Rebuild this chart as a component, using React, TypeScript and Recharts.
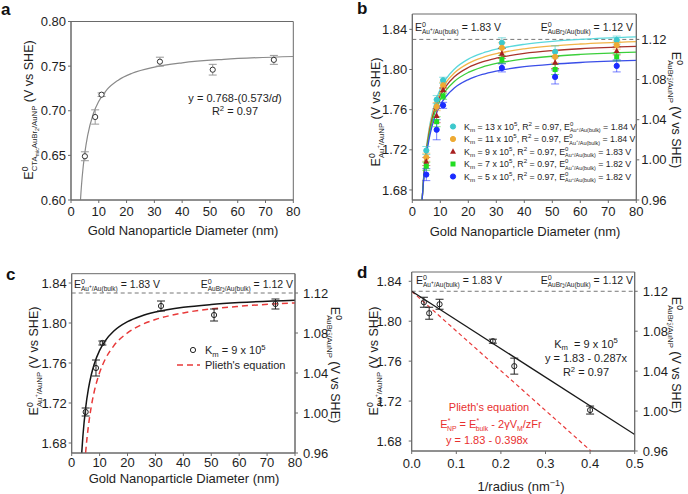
import React from 'react';
import { ComposedChart, Line, Scatter, XAxis, YAxis, ErrorBar, ReferenceLine, ReferenceArea } from 'recharts';

const FONT = "'Liberation Sans', Arial, Helvetica, sans-serif";
const TXT = '#1e1e1e';
const AX = '#6a6a6a';

// ---------- data ----------
const diameters = [5, 8.7, 11, 32, 51, 73];
const inverseRadius = [0.4, 0.23, 0.182, 0.0625, 0.0392, 0.0274];

// panel a
const aPotential = [0.649, 0.693, 0.718, 0.755, 0.746, 0.757];
const aError = [0.005, 0.008, 0.002, 0.005, 0.006, 0.005];
const aFitDiameter = [3.41, 3.6, 4, 5, 6, 8, 10, 13, 17, 22, 30, 40, 55, 80];
const aFitPotential = [0.6, 0.609, 0.625, 0.6534, 0.6725, 0.6964, 0.7107, 0.7239, 0.7343, 0.742, 0.7489, 0.7537, 0.7576, 0.7608];

// panel b
const bKm13 = [1.7193, 1.770, 1.7893, 1.8266, 1.8176, 1.8293];
const bKm11 = [1.7126, 1.763, 1.7843, 1.8216, 1.8126, 1.8243];
const bKm9 = [1.7083, 1.754, 1.7797, 1.816, 1.807, 1.8186];
const bKm7 = [1.7036, 1.748, 1.7733, 1.810, 1.800, 1.8126];
const bKm5 = [1.6953, 1.740, 1.7643, 1.8016, 1.7926, 1.8036];
const bErr13 = [0.004, 0.004, 0.003, 0.005, 0.006, 0.004];
const bErr11 = [0.004, 0.004, 0.003, 0.005, 0.006, 0.004];
const bErr9 = [0.004, 0.007, 0.002, 0.005, 0.006, 0.004];
const bErr7 = [0.004, 0.005, 0.003, 0.004, 0.005, 0.004];
const bErr5 = [0.006, 0.010, 0.003, 0.004, 0.007, 0.006];
const bFitDiameter = [3.5, 4, 5, 6, 7, 8, 10, 12, 15, 20, 25, 30, 40, 50, 60, 80];
const bFit13 = [1.670, 1.6913, 1.721, 1.7408, 1.755, 1.7656, 1.7805, 1.7904, 1.8003, 1.8103, 1.8162, 1.8202, 1.8251, 1.8281, 1.8301, 1.8326];
const bFit11 = [1.670, 1.6906, 1.7195, 1.7388, 1.7525, 1.7628, 1.7773, 1.7869, 1.7965, 1.8061, 1.8119, 1.8158, 1.8206, 1.8235, 1.8254, 1.8278];
const bFit9 = [1.670, 1.690, 1.718, 1.7367, 1.750, 1.760, 1.774, 1.7833, 1.7927, 1.802, 1.8076, 1.8113, 1.816, 1.8188, 1.8207, 1.823];
const bFit7 = [1.670, 1.6893, 1.7162, 1.7342, 1.747, 1.7566, 1.7701, 1.7791, 1.7881, 1.7971, 1.8024, 1.806, 1.8105, 1.8132, 1.815, 1.8173];
const bFit5 = [1.670, 1.6882, 1.7137, 1.7306, 1.7428, 1.7518, 1.7646, 1.7731, 1.7816, 1.790, 1.7951, 1.7985, 1.8028, 1.8053, 1.807, 1.8091];

// panel c / d
const cPotential = [1.711, 1.755, 1.780, 1.817, 1.808, 1.819];
const cError = [0.004, 0.008, 0.002, 0.005, 0.006, 0.005];
const cFitDiameter = [3.59, 4, 5, 6, 7, 8, 10, 12, 15, 20, 25, 30, 40, 50, 60, 80];
const cFitPotential = [1.6701, 1.6865, 1.7152, 1.7343, 1.748, 1.7583, 1.7726, 1.7822, 1.7917, 1.8013, 1.807, 1.8109, 1.8157, 1.8185, 1.8204, 1.8228];
const cPliethDiameter = [4.975, 5.5, 6, 7, 8, 10, 12, 15, 20, 25, 30, 40, 50, 60, 80];
const cPliethPotential = [1.670, 1.6853, 1.6973, 1.7163, 1.7305, 1.7504, 1.7637, 1.7769, 1.7902, 1.7982, 1.8035, 1.8101, 1.8141, 1.8167, 1.8201];
const dFitX = [0, 0.5];
const dFitY = [1.83, 1.6865];
const dPliethX = [0, 0.402];
const dPliethY = [1.83, 1.67];

const diameterTicks = [0, 10, 20, 30, 40, 50, 60, 70, 80];
const aYTicks = [0.6, 0.65, 0.7, 0.75, 0.8];
const leftTicks = [1.68, 1.72, 1.76, 1.8, 1.84];
const rightTicks = [0.96, 1.0, 1.04, 1.08, 1.12];
const dXTicks = [0, 0.1, 0.2, 0.3, 0.4, 0.5];
const bulkLine = 1.83;

const pts = (xs: number[], ys: number[], es?: number[]) =>
  xs.map((x, i) => ({ x, y: ys[i], err: es ? es[i] : 0 }));

// ---------- rich text ----------
type Seg = { t: string; s?: number; sh?: number; dx?: number; it?: boolean };
function Rich({ x, y, fs, segs, anchor = 'start', rot = 0, fill = TXT }: any) {
  let prev = 0;
  return (
    <text x={x} y={y} fontSize={fs} fontFamily={FONT} fill={fill} textAnchor={anchor}
      style={{ whiteSpace: 'pre' }}
      transform={rot ? `rotate(${rot} ${x} ${y})` : undefined}>
      {segs.map((g: Seg, i: number) => {
        const sh = g.sh ?? 0;
        const dy = -(sh - prev) * fs;
        prev = sh;
        return (
          <tspan key={i} fontSize={(g.s ?? 1) * fs} dy={dy ? dy : undefined}
            dx={g.dx ? g.dx * fs : undefined} fontStyle={g.it ? 'italic' : undefined}>{g.t}</tspan>
        );
      })}
    </text>
  );
}
const BACK = -0.68 * 0.556;
const SUP0: Seg = { t: '0', s: 0.68, sh: 0.42 };
const sub = (t: string, dx?: number): Seg => ({ t, s: 0.62, sh: -0.3, dx });
const eAuBulk: Seg[] = [{ t: 'E' }, SUP0, sub('Au', BACK), { t: '+', s: 0.45, sh: -0.02 }, sub('/Au(bulk)')];
const eAuBrBulk: Seg[] = [{ t: 'E' }, SUP0, sub('AuBr', BACK), { t: '2', s: 0.42, sh: -0.42 }, { t: '−', s: 0.42, sh: -0.08, dx: -0.24 }, sub('/Au(bulk)')];
const leftLabel: Seg[] = [{ t: 'E' }, SUP0, sub('Au', BACK), { t: '+', s: 0.45, sh: -0.02 }, sub('/AuNP'), { t: ' (V vs SHE)' }];
const rightLabel: Seg[] = [{ t: 'E' }, SUP0, sub('AuBr', BACK), { t: '2', s: 0.42, sh: -0.42 }, { t: '−', s: 0.42, sh: -0.08, dx: -0.24 }, sub('/AuNP'), { t: ' (V vs SHE)' }];
const aLabel: Seg[] = [{ t: 'E' }, SUP0, sub('CTA', BACK), { t: 'mic', s: 0.42, sh: -0.45 }, sub('AuBr'), { t: '2', s: 0.42, sh: -0.45 }, sub('/AuNP'), { t: ' (V vs SHE)' }];
const kmRow = (k: string, e: string): Seg[] => [
  { t: 'K' }, { t: 'm', s: 0.7, sh: -0.25 }, { t: ` = ${k} x 10` }, { t: '5', s: 0.7, sh: 0.4 },
  { t: ', R' }, { t: '2', s: 0.7, sh: 0.4 }, { t: ' = 0.97, E' }, SUP0, sub('Au', BACK),
  { t: '+', s: 0.45, sh: -0.02 }, sub('/Au(bulk)'), { t: ` = ${e} V` },
];

// ---------- markers ----------
const circ = (fill: string, stroke?: string, r = 2.6) => (p: any) =>
  <circle cx={p.cx} cy={p.cy} r={r} fill={fill} stroke={stroke ?? fill} strokeWidth={1} />;
const tri = (fill: string) => (p: any) =>
  <polygon points={`${p.cx},${p.cy - 3.2} ${p.cx - 3},${p.cy + 2.2} ${p.cx + 3},${p.cy + 2.2}`} fill={fill} />;
const sq = (fill: string) => (p: any) =>
  <rect x={p.cx - 2.5} y={p.cy - 2.5} width={5} height={5} fill={fill} />;

const tickStyle = { fill: TXT, fontSize: 13, fontFamily: FONT };
const common = { stroke: AX, axisLine: { stroke: AX }, tickLine: { stroke: AX }, tick: tickStyle, allowDataOverflow: true, interval: 0 as const };
const PanelLetter = ({ x, y, t }: any) => (
  <text x={x} y={y} fontSize={17} fontWeight="bold" fontFamily={FONT} fill="#111">{t}</text>
);
const Title = ({ x, y, t }: any) => (
  <text x={x} y={y} fontSize={13} fontFamily={FONT} fill={TXT} textAnchor="middle">{t}</text>
);

const bSeries = [
  { pts: bKm13, err: bErr13, fit: bFit13, curve: '#5ad8dc', mark: '#3cc8cc', shape: 'c', k: '13', e: '1.84' },
  { pts: bKm11, err: bErr11, fit: bFit11, curve: '#f2b448', mark: '#eeaa33', shape: 'c', k: '11', e: '1.84' },
  { pts: bKm9, err: bErr9, fit: bFit9, curve: '#a8322a', mark: '#a82020', shape: 't', k: '9', e: '1.83' },
  { pts: bKm7, err: bErr7, fit: bFit7, curve: '#3ccf3c', mark: '#22dd22', shape: 's', k: '7', e: '1.82' },
  { pts: bKm5, err: bErr5, fit: bFit5, curve: '#3a4ee8', mark: '#1a2cff', shape: 'c', k: '5', e: '1.82' },
];
const shapeFor = (s: string, c: string) => (s === 't' ? tri(c) : s === 's' ? sq(c) : circ(c));

export default function App() {
  return (
    <div style={{ position: 'absolute', left: 0, top: 0, width: 688, height: 494, background: '#fff' }}>
      {/* panel a */}
      <div style={{ position: 'absolute', left: 0, top: 0 }}>
        <ComposedChart width={344} height={247} margin={{ top: 21.5, right: 50.7, left: 0, bottom: 0 }}>
          <XAxis {...common} type="number" dataKey="x" domain={[0, 80]} ticks={diameterTicks} height={47} tickSize={3} tickMargin={4} />
          <YAxis {...common} yAxisId="l" type="number" domain={[0.6, 0.8]} ticks={aYTicks} width={71} tickSize={3} tickMargin={2} tickFormatter={(v: number) => v.toFixed(2)} />
          <ReferenceArea yAxisId="l" x1={0} x2={80} y1={0.6} y2={0.8} fill="none" fillOpacity={0} stroke={AX} strokeOpacity={1} />
          <Line yAxisId="l" data={pts(aFitDiameter, aFitPotential)} dataKey="y" type="monotone" stroke="#8a8a8a" strokeWidth={1.2} dot={false} activeDot={false} isAnimationActive={false} />
          <Scatter yAxisId="l" data={pts(diameters, aPotential, aError)} dataKey="y" shape={circ('#fff', '#333')} isAnimationActive={false}>
            <ErrorBar dataKey="err" direction="y" width={4} stroke="#999" strokeWidth={1} />
          </Scatter>
          <PanelLetter x={1} y={15} t="a" />
          <Rich x={33} y={110} fs={12.5} segs={aLabel} anchor="middle" rot={-90} />
          <Title x={183} y={235} t="Gold Nanoparticle Diameter (nm)" />
          <Rich x={235} y={102} fs={11} anchor="middle" segs={[{ t: 'y = 0.768-(0.573/' }, { t: 'd', it: true }, { t: ')' }]} />
          <Rich x={235} y={115} fs={11} anchor="middle" segs={[{ t: 'R' }, { t: '2', s: 0.7, sh: 0.4 }, { t: ' = 0.97' }]} />
        </ComposedChart>
      </div>

      {/* panel b */}
      <div style={{ position: 'absolute', left: 344, top: 0 }}>
        <ComposedChart width={344} height={247} margin={{ top: 14, right: 0, left: 0, bottom: 0 }}>
          <XAxis {...common} type="number" dataKey="x" domain={[0, 80]} ticks={diameterTicks} height={47} tickSize={3} tickMargin={4} />
          <YAxis {...common} yAxisId="l" type="number" domain={[1.67, 1.8553]} ticks={leftTicks} width={68.3} tickSize={3} tickMargin={2} tickFormatter={(v: number) => v.toFixed(2)} />
          <YAxis {...common} yAxisId="r" orientation="right" type="number" domain={[0.96, 1.1453]} ticks={rightTicks} width={51.7} tickSize={3} tickMargin={2} tickFormatter={(v: number) => v.toFixed(2)} />
          <ReferenceArea yAxisId="l" x1={0} x2={80} y1={1.67} y2={1.8553} fill="none" fillOpacity={0} stroke={AX} strokeOpacity={1} />
          <ReferenceLine yAxisId="l" y={bulkLine} stroke="#777" strokeDasharray="4 3" />
          {bSeries.map((s, i) => (
            <Line key={'l' + i} yAxisId="l" data={pts(bFitDiameter, s.fit)} dataKey="y" type="monotone" stroke={s.curve} strokeWidth={1.3} dot={false} activeDot={false} isAnimationActive={false} />
          ))}
          {bSeries.map((s, i) => (
            <Scatter key={'s' + i} yAxisId="l" data={pts(diameters, s.pts, s.err)} dataKey="y" shape={shapeFor(s.shape, s.mark)} isAnimationActive={false}>
              <ErrorBar dataKey="err" direction="y" width={4} stroke={s.mark} strokeOpacity={0.6} strokeWidth={1} />
            </Scatter>
          ))}
          <PanelLetter x={13} y={14} t="b" />
          <Rich x={36} y={112} fs={12.5} segs={leftLabel} anchor="middle" rot={-90} />
          <Rich x={328} y={110} fs={12.5} segs={rightLabel} anchor="middle" rot={90} />
          <Rich x={71} y={31} fs={10.5} segs={[...eAuBulk, { t: ' = 1.83 V' }]} />
          <Rich x={289} y={31} fs={10.5} anchor="end" segs={[...eAuBrBulk, { t: ' = 1.12 V' }]} />
          {bSeries.map((s, i) => {
            const y = 126.5 + i * 12.5;
            const Shape = shapeFor(s.shape, s.mark);
            return (
              <g key={'lg' + i}>
                {Shape({ cx: 109, cy: y })}
                <Rich x={120} y={y + 3} fs={8.8} segs={kmRow(s.k, s.e)} />
              </g>
            );
          })}
          <Title x={181} y={236} t="Gold Nanoparticle Diameter (nm)" />
        </ComposedChart>
      </div>

      {/* panel c */}
      <div style={{ position: 'absolute', left: 0, top: 247 }}>
        <ComposedChart width={344} height={247} margin={{ top: 26.7, right: 0, left: 0, bottom: 0 }}>
          <XAxis {...common} type="number" dataKey="x" domain={[0, 80]} ticks={diameterTicks} height={41} tickSize={3} tickMargin={2} />
          <YAxis {...common} yAxisId="l" type="number" domain={[1.67, 1.8493]} ticks={leftTicks} width={71.7} tickSize={3} tickMargin={2} tickFormatter={(v: number) => v.toFixed(2)} />
          <YAxis {...common} yAxisId="r" orientation="right" type="number" domain={[0.96, 1.1393]} ticks={rightTicks} width={49} tickSize={3} tickMargin={5} tickFormatter={(v: number) => v.toFixed(2)} />
          <ReferenceArea yAxisId="l" x1={0} x2={80} y1={1.67} y2={1.8493} fill="none" fillOpacity={0} stroke={AX} strokeOpacity={1} />
          <ReferenceLine yAxisId="l" y={bulkLine} stroke="#777" strokeDasharray="4 3" />
          <Line yAxisId="l" data={pts(cPliethDiameter, cPliethPotential)} dataKey="y" type="monotone" stroke="#e83a3a" strokeWidth={1.5} strokeDasharray="6 4" dot={false} activeDot={false} isAnimationActive={false} />
          <Line yAxisId="l" data={pts(cFitDiameter, cFitPotential)} dataKey="y" type="monotone" stroke="#151515" strokeWidth={1.5} dot={false} activeDot={false} isAnimationActive={false} />
          <Scatter yAxisId="l" data={pts(diameters, cPotential, cError)} dataKey="y" shape={circ('none', '#222')} isAnimationActive={false}>
            <ErrorBar dataKey="err" direction="y" width={4} stroke="#222" strokeWidth={1} />
          </Scatter>
          <PanelLetter x={6} y={33} t="c" />
          <Rich x={38} y={114} fs={12.5} segs={leftLabel} anchor="middle" rot={-90} />
          <Rich x={331} y={118} fs={12.5} segs={rightLabel} anchor="middle" rot={90} />
          <Rich x={74} y={41} fs={10.5} segs={[...eAuBulk, { t: ' = 1.83 V' }]} />
          <Rich x={293} y={41} fs={10.5} anchor="end" segs={[...eAuBrBulk, { t: ' = 1.12 V' }]} />
          <circle cx={193} cy={103} r={2.6} fill="none" stroke="#222" />
          <Rich x={205} y={107} fs={11} segs={[{ t: 'K' }, { t: 'm', s: 0.7, sh: -0.25 }, { t: ' = 9 x 10' }, { t: '5', s: 0.7, sh: 0.4 }]} />
          <line x1={177} x2={200} y1={118} y2={118} stroke="#e83a3a" strokeWidth={1.5} strokeDasharray="6 4" />
          <Rich x={205} y={122} fs={11} segs={[{ t: "Plieth's equation" }]} />
          <Title x={184} y={236} t="Gold Nanoparticle Diameter (nm)" />
        </ComposedChart>
      </div>

      {/* panel d */}
      <div style={{ position: 'absolute', left: 344, top: 247 }}>
        <ComposedChart width={344} height={247} margin={{ top: 25, right: 0, left: 0, bottom: 0 }}>
          <XAxis {...common} type="number" dataKey="x" domain={[0, 0.5]} ticks={dXTicks} height={43} tickSize={3} tickMargin={5} tickFormatter={(v: number) => v.toFixed(1)} />
          <YAxis {...common} yAxisId="l" type="number" domain={[1.67, 1.8493]} ticks={leftTicks} width={67.7} tickSize={3} tickMargin={7} tickFormatter={(v: number) => v.toFixed(2)} />
          <YAxis {...common} yAxisId="r" orientation="right" type="number" domain={[0.96, 1.1393]} ticks={rightTicks} width={53.3} tickSize={3} tickMargin={5} tickFormatter={(v: number) => v.toFixed(2)} />
          <ReferenceArea yAxisId="l" x1={0} x2={0.5} y1={1.67} y2={1.8493} fill="none" fillOpacity={0} stroke={AX} strokeOpacity={1} />
          <ReferenceLine yAxisId="l" y={bulkLine} stroke="#777" strokeDasharray="4 3" />
          <Line yAxisId="l" data={pts(dPliethX, dPliethY)} dataKey="y" type="linear" stroke="#e83a3a" strokeWidth={1.2} strokeDasharray="4 3" dot={false} activeDot={false} isAnimationActive={false} />
          <Line yAxisId="l" data={pts(dFitX, dFitY)} dataKey="y" type="linear" stroke="#1a1a1a" strokeWidth={1.3} dot={false} activeDot={false} isAnimationActive={false} />
          <Scatter yAxisId="l" data={pts(inverseRadius, cPotential, cError)} dataKey="y" shape={circ('none', '#222')} isAnimationActive={false}>
            <ErrorBar dataKey="err" direction="y" width={4} stroke="#222" strokeWidth={1} />
          </Scatter>
          <PanelLetter x={13} y={31} t="d" />
          <Rich x={34} y={114} fs={12.5} segs={leftLabel} anchor="middle" rot={-90} />
          <Rich x={328} y={108} fs={12.5} segs={rightLabel} anchor="middle" rot={90} />
          <Rich x={72} y={37} fs={10.5} segs={[...eAuBulk, { t: ' = 1.83 V' }]} />
          <Rich x={289} y={37} fs={10.5} anchor="end" segs={[...eAuBrBulk, { t: ' = 1.12 V' }]} />
          <Rich x={242} y={100.5} fs={11} anchor="middle" segs={[{ t: 'K' }, { t: 'm', s: 0.7, sh: -0.25 }, { t: '  = 9 x 10' }, { t: '5', s: 0.7, sh: 0.4 }]} />
          <Rich x={242} y={115} fs={11} anchor="middle" segs={[{ t: 'y = 1.83 - 0.287x' }]} />
          <Rich x={242} y={129} fs={11} anchor="middle" segs={[{ t: 'R' }, { t: '2', s: 0.7, sh: 0.4 }, { t: ' = 0.97' }]} />
          <Rich x={145} y={164} fs={11} anchor="middle" fill="#e8302f" segs={[{ t: "Plieth's equation" }]} />
          <Rich x={147} y={180.5} fs={11} anchor="middle" fill="#e8302f" segs={[
            { t: 'E' }, { t: '*', s: 0.62, sh: 0.4 }, { t: 'NP', s: 0.62, sh: -0.3, dx: -0.3 }, { t: ' = E' },
            { t: '*', s: 0.62, sh: 0.4 }, { t: 'bulk', s: 0.62, sh: -0.3, dx: -0.3 }, { t: ' - 2γV' },
            { t: 'M', s: 0.62, sh: -0.3 }, { t: '/zFr' },
          ]} />
          <Rich x={143} y={197} fs={11} anchor="middle" fill="#e8302f" segs={[{ t: 'y = 1.83 - 0.398x' }]} />
          <Rich x={177} y={244} fs={13} anchor="middle" segs={[{ t: '1/radius (nm' }, { t: '−1', s: 0.7, sh: 0.4 }, { t: ')' }]} />
        </ComposedChart>
      </div>
    </div>
  );
}
